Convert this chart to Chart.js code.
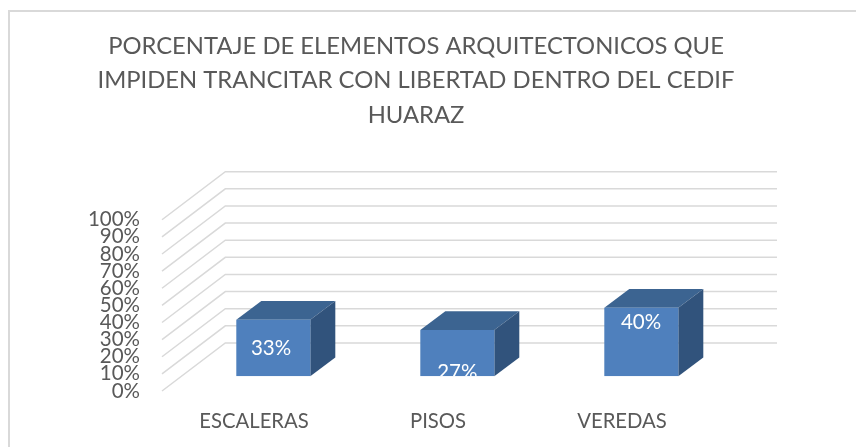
<!DOCTYPE html>
<html>
<head>
<meta charset="utf-8">
<style>
html,body{margin:0;padding:0;background:#fff;overflow:hidden}
#frame{position:absolute;left:8px;top:10px;width:848px;height:437px;border-left:2px solid #d9d9d9;border-top:2px solid #d9d9d9;box-sizing:border-box}
#c{position:absolute;left:10px;top:12px}
</style>
<script src="https://cdn.jsdelivr.net/npm/chart.js@4"></script>
</head>
<body>
<div id="frame"></div>
<canvas id="c" width="814" height="435"></canvas>
<script>
const titleLines = ['PORCENTAJE DE ELEMENTOS ARQUITECTONICOS QUE','IMPIDEN TRANCITAR CON LIBERTAD DENTRO DEL CEDIF','HUARAZ'];
const categories = ['ESCALERAS','PISOS','VEREDAS'];
const values = [33,27,40];
const tickValues = [0,10,20,30,40,50,60,70,80,90,100];

// 3D projection constants (px)
const FLOOR = {dx:63.3, dy:-48, right:767};      // floor depth, wall right end in canvas px
const PLANE = {dx:19.3, dy:-14.7};               // where the bar front sits within the floor
const DEPTH = {dx:25, dy:-18.8};                 // bar depth
const LABEL_DROP = [28.3,42,15];                 // label centre below the bar top
const LABEL_SHIFT = [-2.3,0,-0.3];

const FONT = 'Lato, Carlito, "Open Sans", sans-serif';

const box3d = {
  id:'box3d',
  beforeDatasetsDraw(chart){
    const {ctx,scales:{y}} = chart;
    const x0 = chart.chartArea.left;
    ctx.save();
    ctx.strokeStyle='#d9d9d9';
    ctx.lineWidth=1.5;
    tickValues.forEach(v=>{
      const py=y.getPixelForValue(v);
      ctx.beginPath();
      ctx.moveTo(x0,py);
      ctx.lineTo(x0+FLOOR.dx,py+FLOOR.dy);
      ctx.lineTo(FLOOR.right,py+FLOOR.dy);
      ctx.stroke();
    });
    ctx.translate(PLANE.dx,PLANE.dy);
    chart.getDatasetMeta(0).data.forEach(b=>{
      const hw=b.width/2, l=b.x-hw, r=b.x+hw, t=b.y, bt=b.base;
      ctx.fillStyle='#3c6491';
      ctx.beginPath();
      ctx.moveTo(l,t);ctx.lineTo(l+DEPTH.dx,t+DEPTH.dy);ctx.lineTo(r+DEPTH.dx,t+DEPTH.dy);ctx.lineTo(r,t);
      ctx.closePath();ctx.fill();
      ctx.fillStyle='#31537c';
      ctx.beginPath();
      ctx.moveTo(r,t);ctx.lineTo(r+DEPTH.dx,t+DEPTH.dy);ctx.lineTo(r+DEPTH.dx,bt+DEPTH.dy);ctx.lineTo(r,bt);
      ctx.closePath();ctx.fill();
    });
  },
  afterDatasetsDraw(chart){
    const {ctx} = chart;
    chart.getDatasetMeta(0).data.forEach((b,i)=>{
      ctx.save();
      ctx.beginPath();
      ctx.rect(b.x-b.width/2,b.y,b.width,b.base-b.y);
      ctx.clip();
      ctx.fillStyle='#ffffff';
      ctx.font='20.5px '+FONT;
      ctx.textAlign='center';
      ctx.textBaseline='middle';
      ctx.fillText(values[i]+'%',b.x+LABEL_SHIFT[i],b.y+LABEL_DROP[i]);
      ctx.restore();
    });
    ctx.restore();
  }
};

new Chart(document.getElementById('c'),{
  type:'bar',
  data:{labels:categories,datasets:[{data:values,backgroundColor:'#4f80bd',borderWidth:0,categoryPercentage:1,barPercentage:0.4022}]},
  plugins:[box3d],
  options:{
    responsive:false,
    animation:false,
    layout:{padding:{left:0,right:2,top:0,bottom:0}},
    plugins:{
      legend:{display:false},
      tooltip:{enabled:false},
      title:{display:true,text:titleLines,color:'#595959',align:'center',
        font:{family:FONT,size:23.8,weight:'normal',lineHeight:1.45},
        padding:{top:17,bottom:87.2}}
    },
    scales:{
      x:{
        grid:{display:false},border:{display:false},
        ticks:{color:'#595959',font:{family:FONT,size:20.3},padding:10,maxRotation:0},
        afterFit(s){s.height=56;}
      },
      y:{
        min:0,max:100,
        grid:{display:false,drawTicks:false},border:{display:false},
        afterBuildTicks(s){s.ticks=tickValues.map(v=>({value:v}));},
        ticks:{color:'#595959',font:{family:FONT,size:20.5},padding:22,autoSkip:false,callback:v=>v+'%'},
        afterFit(s){s.width=152;}
      },
      rightGutter:{
        type:'linear',position:'right',min:0,max:100,
        grid:{display:false},border:{display:false},ticks:{display:false},
        afterFit(s){s.width=108;}
      }
    }
  }
});
</script>
</body>
</html>
